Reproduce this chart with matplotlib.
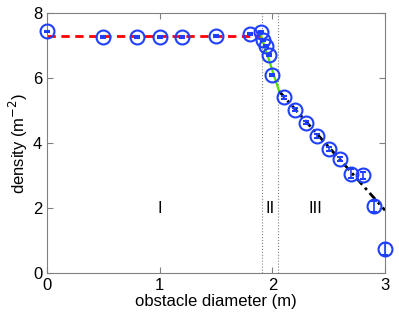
import matplotlib
matplotlib.use("Agg")
import matplotlib.pyplot as plt

plt.rcParams['font.family'] = ['Liberation Sans', 'DejaVu Sans']

# measured density vs obstacle diameter
diam = [0.0, 0.5, 0.8, 1.0, 1.2, 1.5, 1.8, 1.9, 1.92, 1.94, 1.97, 2.0,
        2.1, 2.2, 2.3, 2.4, 2.5, 2.6, 2.7, 2.8, 2.9, 3.0]
dens = [7.43, 7.25, 7.25, 7.25, 7.25, 7.30, 7.34, 7.41, 7.18, 6.98, 6.72, 6.10,
        5.40, 5.02, 4.63, 4.21, 3.82, 3.52, 3.06, 3.00, 2.05, 0.74]
err = [0.03, 0.03, 0.03, 0.03, 0.03, 0.03, 0.03, 0.03, 0.03, 0.03, 0.03, 0.03,
       0.05, 0.05, 0.06, 0.06, 0.06, 0.06, 0.15, 0.12, 0.18, 0.18]

# fitted regimes
fit1_x = [0.0, 1.9]
fit1_y = [7.3, 7.3]
fit2_x = [1.9, 2.06]
fit2_y = [7.3, 5.59]
fit3_x = [2.06, 3.0]
fit3_y = [5.59, 1.93]

# regime boundaries and labels
bounds = [1.91, 2.05]
regimes = ["I", "II", "III"]
regime_x = [1.0, 1.98, 2.38]

fig = plt.figure(figsize=(3.99, 3.16), dpi=100)
ax = fig.add_axes([0.118, 0.136, 0.847, 0.823])

for b in bounds:
    ax.axvline(b, color='gray', linestyle=':', linewidth=0.8)

ax.plot(fit1_x, fit1_y, color='red', linestyle='--', linewidth=2, dashes=(3, 2))
ax.plot(fit2_x, fit2_y, color='#55dd00', linestyle='-', linewidth=1.6)
ax.plot(fit3_x, fit3_y, color='black', linestyle='-.', linewidth=2, dashes=(3, 1.5, 1, 1.5))

ax.errorbar(diam, dens, yerr=err, fmt='o', markersize=10, markerfacecolor='none',
            markeredgecolor='#1f3fff', markeredgewidth=1.5, ecolor='#1f3fff',
            elinewidth=1.2, capsize=2.5, zorder=5, clip_on=False)

for lbl, x in zip(regimes, regime_x):
    ax.text(x, 2.0, lbl, ha='center', va='center', fontsize=12)

ax.set_xlim(0, 3)
ax.set_ylim(0, 8)
ax.set_xticks([0, 1, 2, 3])
ax.set_yticks([0, 2, 4, 6, 8])
ax.tick_params(direction='in', top=True, right=True, labelsize=12, color='gray', length=4)
for s in ax.spines.values():
    s.set_color('gray')
ax.set_xlabel("obstacle diameter (m)", fontsize=12, labelpad=1)
ax.set_ylabel("density (m$^{-2}$)", fontsize=12, labelpad=2)

fig.savefig("out.png", dpi=100)
